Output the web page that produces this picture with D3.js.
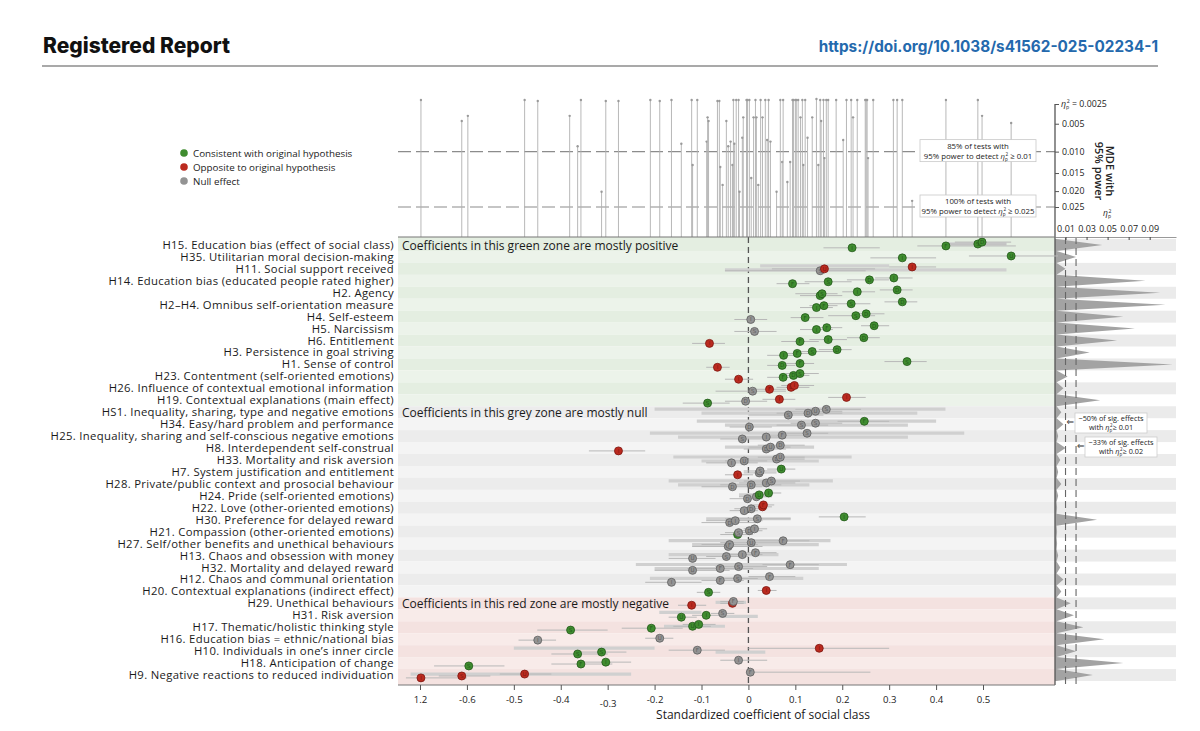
<!DOCTYPE html>
<html>
<head>
<meta charset="utf-8">
<script src="https://cdn.jsdelivr.net/npm/d3@7"></script>
<style>
body { margin: 0; background: #fff; font-family: "Open Sans", "Noto Sans", sans-serif; }
</style>
</head>
<body>
<svg id="chart" width="1200" height="731"></svg>
<script>
var hypotheses = [
  "H15. Education bias (effect of social class)",
  "H35. Utilitarian moral decision-making",
  "H11. Social support received",
  "H14. Education bias (educated people rated higher)",
  "H2. Agency",
  "H2\u2013H4. Omnibus self-orientation measure",
  "H4. Self-esteem",
  "H5. Narcissism",
  "H6. Entitlement ",
  "H3. Persistence in goal striving",
  "H1. Sense of control",
  "H23. Contentment (self-oriented emotions)",
  "H26. Influence of contextual emotional information",
  "H19. Contextual explanations (main effect)",
  "HS1. Inequality, sharing, type and negative emotions",
  "H34. Easy/hard problem and performance",
  "H25. Inequality, sharing and self-conscious negative emotions",
  "H8. Interdependent self-construal",
  "H33. Mortality and risk aversion",
  "H7. System justification and entitlement",
  "H28. Private/public context and prosocial behaviour",
  "H24. Pride (self-oriented emotions)",
  "H22. Love (other-oriented emotions)",
  "H30. Preference for delayed reward",
  "H21. Compassion (other-oriented emotions)",
  "H27. Self/other benefits and unethical behaviours",
  "H13. Chaos and obsession with money",
  "H32. Mortality and delayed reward",
  "H12. Chaos and communal orientation",
  "H20. Contextual explanations (indirect effect)",
  "H29. Unethical behaviours",
  "H31. Risk aversion",
  "H17. Thematic/holistic thinking style",
  "H16. Education bias = ethnic/national bias",
  "H10. Individuals in one\u2019s inner circle",
  "H18. Anticipation of change",
  "H9. Negative reactions to reduced individuation"
];

// zone name, first row, last row
var zones = [["green", 0, 13], ["grey", 14, 29], ["red", 30, 36]];
var zoneNotes = [
  "Coefficients in this green zone are mostly positive",
  "Coefficients in this grey zone are mostly null",
  "Coefficients in this red zone are mostly negative"
];

// row, estimate, CI low, CI high, status (c consistent, o opposite, n null), site letter
var estimates = [
  [0,0.221,0.16,0.28,"c","I"],[0,0.421,0.36,0.57,"c","F"],[0,0.489,0.42,0.55,"c","S"],[0,0.498,0.44,0.56,"c","D"],
  [1,0.328,0.26,0.40,"c","I"],[1,0.560,0.47,0.66,"c","U"],
  [2,0.153,-0.05,0.25,"n","S"],[2,0.162,0.05,0.27,"o","U"],[2,0.349,0.30,0.40,"o","I"],
  [3,0.094,0.06,0.13,"c","F"],[3,0.170,0.12,0.22,"c","S"],[3,0.258,0.21,0.30,"c","D"],[3,0.310,0.27,0.35,"c","I"],
  [4,0.153,0.11,0.20,"c","F"],[4,0.157,0.10,0.19,"c","S"],[4,0.232,0.20,0.27,"c","I"],[4,0.317,0.28,0.35,"c","D"],
  [5,0.145,0.11,0.18,"c","I"],[5,0.161,0.13,0.19,"c","F"],[5,0.219,0.17,0.26,"c","S"],[5,0.328,0.29,0.36,"c","D"],
  [6,0.005,-0.03,0.04,"n","I"],[6,0.121,0.09,0.16,"c","F"],[6,0.229,0.17,0.27,"c","S"],[6,0.251,0.22,0.29,"c","D"],
  [7,0.013,-0.03,0.06,"n","S"],[7,0.145,0.11,0.18,"c","I"],[7,0.167,0.14,0.20,"c","F"],[7,0.268,0.24,0.30,"c","D"],
  [8,-0.083,-0.12,-0.05,"o","I"],[8,0.110,0.07,0.15,"c","F"],[8,0.170,0.13,0.21,"c","I"],[8,0.246,0.21,0.28,"c","D"],
  [9,0.075,0.04,0.11,"c","I"],[9,0.104,0.07,0.14,"c","F"],[9,0.136,0.10,0.18,"c","S"],[9,0.189,0.15,0.22,"c","D"],
  [10,-0.066,-0.09,-0.04,"o","I"],[10,0.072,0.04,0.10,"c","D"],[10,0.110,0.08,0.14,"c","F"],[10,0.338,0.29,0.38,"c","S"],
  [11,-0.021,-0.05,0.01,"o","I"],[11,0.074,0.04,0.11,"c","F"],[11,0.096,0.07,0.13,"c","D"],[11,0.110,0.08,0.15,"c","S"],
  [12,0.009,-0.07,0.08,"n","S"],[12,0.045,0.01,0.08,"o","F"],[12,0.091,0.06,0.13,"o","D"],[12,0.098,0.07,0.14,"o","I"],
  [13,-0.087,-0.14,-0.04,"c","S"],[13,-0.006,-0.05,0.04,"n","D"],[13,0.066,0.03,0.10,"o","I"],[13,0.209,0.17,0.25,"o","I"],
  [14,0.085,0.00,0.16,"n","S"],[14,0.127,0.06,0.20,"n","D"],[14,0.143,0.08,0.20,"n","U"],[14,0.166,0.10,0.24,"n","S"],
  [15,0.002,-0.04,0.05,"n","D"],[15,0.113,0.06,0.17,"n","S"],[15,0.143,0.09,0.20,"n","S"],[15,0.247,0.19,0.30,"c","F"],
  [16,-0.013,-0.06,0.03,"n","S"],[16,0.038,-0.01,0.08,"n","I"],[16,0.072,0.03,0.12,"n","F"],[16,0.125,0.08,0.17,"n","S"],
  [17,-0.277,-0.34,-0.22,"o","I"],[17,0.038,-0.01,0.08,"n","D"],[17,0.047,0.00,0.09,"n","U"],[17,0.068,0.02,0.12,"n","D"],
  [18,-0.036,-0.09,0.02,"n","I"],[18,-0.009,-0.05,0.04,"n","U"],[18,0.060,0.00,0.12,"n","D"],[18,0.068,0.02,0.12,"n","U"],
  [19,-0.023,-0.05,0.01,"o","I"],[19,0.023,-0.01,0.06,"n","S"],[19,0.025,-0.01,0.06,"n","S"],[19,0.070,0.04,0.10,"c","U"],
  [20,-0.034,-0.10,0.03,"n","D"],[20,0.006,-0.06,0.07,"n","D"],[20,0.038,-0.02,0.10,"n","I"],[20,0.049,-0.01,0.11,"n","S"],
  [21,-0.002,-0.04,0.03,"n","D"],[21,0.017,-0.02,0.05,"n","S"],[21,0.023,0.00,0.05,"c","U"],[21,0.043,0.02,0.07,"c","I"],
  [22,-0.009,-0.04,0.02,"n","I"],[22,0.006,-0.03,0.04,"n","D"],[22,0.030,0.01,0.05,"o","F"],[22,0.032,0.01,0.055,"o","F"],
  [23,-0.040,-0.10,0.02,"n","D"],[23,-0.028,-0.09,0.03,"n","I"],[23,0.019,-0.05,0.09,"n","S"],[23,0.204,0.15,0.25,"c","I"],
  [24,-0.023,-0.06,0.01,"c","D"],[24,-0.021,-0.05,0.01,"n","S"],[24,0.002,-0.03,0.03,"n","D"],[24,0.013,-0.01,0.04,"n","I"],
  [25,-0.043,-0.12,0.03,"n","I"],[25,-0.040,-0.10,0.02,"n","F"],[25,0.006,-0.06,0.08,"n","U"],[25,0.074,0.00,0.13,"n","F"],
  [26,-0.119,-0.17,-0.07,"n","U"],[26,-0.047,-0.09,0.00,"n","S"],[26,-0.013,-0.05,0.03,"n","I"],[26,0.015,-0.02,0.06,"n","F"],
  [27,-0.119,-0.20,-0.04,"n","U"],[27,-0.060,-0.13,0.01,"n","F"],[27,-0.021,-0.07,0.04,"n","S"],[27,0.089,0.03,0.15,"n","F"],
  [28,-0.164,-0.22,-0.10,"n","I"],[28,-0.060,-0.10,-0.01,"n","F"],[28,-0.023,-0.06,0.02,"n","S"],[28,0.045,0.00,0.10,"n","F"],
  [29,-0.085,-0.11,-0.06,"c","S"],[29,0.038,0.02,0.06,"o","I"],
  [30,-0.121,-0.15,-0.09,"o","I"],[30,-0.034,-0.06,-0.01,"o","D"],[30,-0.032,-0.06,-0.01,"n","F"],
  [31,-0.143,-0.17,-0.11,"c","U"],[31,-0.090,-0.12,-0.06,"c","I"],[31,-0.055,-0.08,-0.03,"n","S"],
  [32,-0.379,-0.45,-0.30,"c","S"],[32,-0.207,-0.27,-0.14,"c","F"],[32,-0.119,-0.16,-0.08,"c","U"],[32,-0.106,-0.14,-0.07,"c","I"],
  [33,-0.449,-0.49,-0.41,"n","I"],[33,-0.189,-0.22,-0.16,"n","U"],
  [34,-0.364,-0.42,-0.30,"c","S"],[34,-0.313,-0.37,-0.26,"c","S"],[34,-0.109,-0.17,-0.05,"n","F"],[34,0.151,0.00,0.30,"o","I"],
  [35,-0.596,-0.67,-0.52,"c","S"],[35,-0.357,-0.42,-0.29,"c","F"],[35,-0.304,-0.36,-0.25,"c","I"],[35,-0.021,-0.06,0.04,"n","I"],
  [36,-0.698,-0.73,-0.60,"o","I"],[36,-0.611,-0.66,-0.55,"o","S"],[36,-0.477,-0.53,-0.42,"o","U"],[36,0.004,0.00,0.26,"n","F"]
];

// wide pooled intervals: row, low, high
var bands = [
  [0,0.42,0.55],
  [2,0.025,0.30],[2,-0.05,0.55],
  [14,-0.20,0.42],[14,-0.10,0.36],
  [15,-0.11,0.40],[15,-0.05,0.34],
  [16,-0.21,0.46],[16,-0.15,0.34],
  [17,-0.05,0.14],
  [18,-0.16,0.22],[18,-0.10,0.15],
  [20,-0.17,0.18],[20,-0.15,0.13],
  [21,-0.02,0.05],
  [23,-0.09,0.09],
  [25,-0.17,0.175],[25,-0.12,0.15],
  [26,-0.17,0.064],
  [27,-0.24,0.21],[27,-0.20,0.15],
  [28,-0.21,0.117],
  [30,-0.07,-0.005],
  [31,-0.19,-0.10],[31,-0.06,0.02],
  [32,-0.18,-0.05],
  [34,-0.50,-0.20],[34,-0.07,0.036],
  [36,-0.72,-0.25]
];

// top panel: coefficient, minimum detectable effect (eta_p^2) with 95% power
var stems = [
  [-0.698,0.0021],[-0.611,0.0046],[-0.598,0.0039],[-0.477,0.0021],[-0.449,0.0022],[-0.381,0.0039],
  [-0.364,0.0089],[-0.357,0.0021],[-0.313,0.0202],[-0.304,0.0022],[-0.277,0.0022],[-0.209,0.0021],
  [-0.189,0.0022],[-0.164,0.0021],[-0.143,0.0084],[-0.121,0.0021],[-0.119,0.0130],[-0.109,0.0021],
  [-0.089,0.0080],[-0.087,0.0041],[-0.085,0.0046],[-0.066,0.0022],[-0.062,0.0022],[-0.060,0.0135],
  [-0.055,0.0182],[-0.047,0.0046],[-0.043,0.0089],[-0.038,0.0080],[-0.034,0.0130],[-0.032,0.0021],
  [-0.030,0.0084],[-0.026,0.0021],[-0.021,0.0021],[-0.019,0.0202],[-0.013,0.0073],[-0.011,0.0041],
  [-0.004,0.0021],[-0.002,0.0021],[0.002,0.0021],[0.006,0.0163],[0.011,0.0041],[0.015,0.0021],
  [0.017,0.0041],[0.021,0.0182],[0.026,0.0021],[0.030,0.0041],[0.036,0.0021],[0.040,0.0077],
  [0.043,0.0021],[0.047,0.0080],[0.060,0.0202],[0.068,0.0021],[0.072,0.0123],[0.074,0.0021],
  [0.083,0.0174],[0.089,0.0123],[0.094,0.0021],[0.096,0.0021],[0.100,0.0021],[0.102,0.0021],
  [0.106,0.0021],[0.111,0.0041],[0.115,0.0021],[0.117,0.0130],[0.121,0.0021],[0.126,0.0073],
  [0.136,0.0041],[0.145,0.0020],[0.149,0.0130],[0.153,0.0021],[0.155,0.0046],[0.160,0.0021],
  [0.162,0.0114],[0.166,0.0021],[0.170,0.0021],[0.187,0.0021],[0.202,0.0077],[0.209,0.0021],
  [0.219,0.0021],[0.223,0.0041],[0.232,0.0021],[0.249,0.0021],[0.251,0.0021],[0.253,0.0021],
  [0.255,0.0114],[0.266,0.0021],[0.309,0.0021],[0.317,0.0021],[0.328,0.0021],[0.349,0.0230],
  [0.421,0.0021],[0.489,0.0021],[0.498,0.0039],[0.560,0.0049]
];

// right panel: peak eta_p^2 per hypothesis row
var densityPeak = [
  0.045,0.020,0.010,0.086,0.100,0.105,0.065,0.076,0.059,0.033,0.112,0.012,0.008,0.043,
  0.006,0.008,0.003,0.010,0.005,0.003,0.006,0.003,0.002,0.040,0.002,0.002,0.003,0.005,0.008,0.006,
  0.015,0.018,0.027,0.047,0.020,0.065,0.036
];

var xTicks = [-0.7,-0.6,-0.5,-0.4,-0.3,-0.2,-0.1,0,0.1,0.2,0.3,0.4,0.5];
var xTickLabels = ["1.2","-0.6","-0.5","-0.4","-0.3","-0.2","-0.1","0","0.1","0.2","0.3","0.4","0.5"];
var mdeTicks = [0.0025,0.005,0.01,0.015,0.02,0.025];
var mdeTickLabels = ["0.0025","0.005","0.010","0.015","0.020","0.025"];
var powerLines = [0.01, 0.025];
var powerNotes = [["85% of tests with","95% power to detect ","\u2265 0.01"],
                  ["100% of tests with","95% power to detect ","\u2265 0.025"]];
var densTicks = [0.01,0.03,0.05,0.07,0.09];
var sigLines = [0.01, 0.02];
var sigNotes = [["~50% of sig. effects","with ","\u2265 0.01"],["~33% of sig. effects","with ","\u2265 0.02"]];

var legendItems = [["c","Consistent with original hypothesis"],["o","Opposite to original hypothesis"],["n","Null effect"]];

var fillCol = {c: "#3f8c2f", o: "#bb2a1f", n: "#939393"};
var strokeCol = {c: "#23591a", o: "#7c1710", n: "#5e5e5e"};
var zoneCol = {green: ["#e4eee1", "#ecf3ea"], grey: ["#ececec", "#f4f4f4"], red: ["#f4e2e0", "#f8ebe9"]};

var svg = d3.select("#chart");
var plotL = 398, plotR = 1055, plotT = 237, plotB = 685;

var x = d3.scaleLinear().domain([-0.7, 0.5]).range([420, 983]);
var y = d3.scaleBand().domain(d3.range(hypotheses.length)).range([239, 681]);
var step = y.step();
var yc = function(i) { return y(i) + step / 2; };
var mde = d3.scaleSqrt().domain([0.0025, 0.025]).range([104, 207]);
var dx = d3.scaleLinear().domain([0, 0.115]).range([plotR, 1176]);

// η_p² helper
function eta(t, fs) {
  t.append("tspan").attr("font-style", "italic").text("\u03b7");
  t.append("tspan").attr("font-size", fs * 0.6).attr("dy", fs * 0.25).text("p");
  t.append("tspan").attr("font-size", fs * 0.6).attr("dy", -fs * 0.65).attr("dx", -fs * 0.3).text("2");
}

// header
svg.append("text").attr("x", 43).attr("y", 53).attr("font-size", 21).attr("font-weight", 800)
  .attr("font-family", "Inter, Lato, sans-serif").attr("fill", "#111").text("Registered Report");
svg.append("text").attr("x", 1158).attr("y", 52).attr("text-anchor", "end").attr("font-size", 15.3)
  .attr("font-weight", 700).attr("font-family", "Inter, Lato, sans-serif")
  .attr("fill", "#2469ad").text("https://doi.org/10.1038/s41562-025-02234-1");
svg.append("line").attr("x1", 42).attr("x2", 1158).attr("y1", 66).attr("y2", 66)
  .attr("stroke", "#555").attr("stroke-width", 1.2);

// legend
var leg = svg.append("g").selectAll("g").data(legendItems).enter().append("g")
  .attr("transform", function(d, i) { return "translate(184," + (153 + i * 14) + ")"; });
leg.append("circle").attr("r", 3.8).attr("fill", function(d) { return fillCol[d[0]]; });
leg.append("text").attr("x", 9).attr("y", 3.5).attr("font-size", 9.8).attr("fill", "#222")
  .text(function(d) { return d[1]; });

// zone stripes
var zoneOfRow = [];
zones.forEach(function(z) { for (var i = z[1]; i <= z[2]; i++) zoneOfRow[i] = z[0]; });
svg.append("g").selectAll("rect").data(d3.range(hypotheses.length)).enter().append("rect")
  .attr("x", plotL).attr("width", plotR - plotL)
  .attr("y", function(i) { return i === 0 ? plotT : y(i); })
  .attr("height", function(i) {
    var top = i === 0 ? plotT : y(i);
    var bot = i === hypotheses.length - 1 ? plotB : y(i) + step;
    return bot - top;
  })
  .attr("fill", function(i) { return zoneCol[zoneOfRow[i]][i % 2]; });

// density stripes
svg.append("g").selectAll("rect").data(d3.range(0, hypotheses.length, 2)).enter().append("rect")
  .attr("x", plotR).attr("width", dx(0.115) - plotR)
  .attr("y", function(i) { return y(i); }).attr("height", step)
  .attr("fill", "#ebebeb");

// density spikes
var densPts = [];
densityPeak.forEach(function(v, i) {
  densPts.push({y: y(i), v: 0.0015});
  densPts.push({y: yc(i), v: v});
  densPts.push({y: y(i) + step, v: 0.0015});
});
svg.append("path").datum(densPts)
  .attr("d", d3.area().y(function(d) { return d.y; }).x0(dx(0)).x1(function(d) { return dx(d.v); }))
  .attr("fill", "#a3a3a3");

svg.append("g").selectAll("line").data(sigLines).enter().append("line")
  .attr("x1", dx).attr("x2", dx).attr("y1", plotT).attr("y2", plotB)
  .attr("stroke", "#666").attr("stroke-width", 1.1).attr("stroke-dasharray", "7,4");

var dAxis = svg.append("g").attr("transform", "translate(0," + plotT + ")")
  .call(d3.axisTop(dx).tickValues(densTicks).tickSizeInner(-3).tickSizeOuter(0).tickPadding(5));
dAxis.select(".domain").attr("stroke", "#999");
dAxis.selectAll("text").attr("font-size", 9).attr("fill", "#222").attr("font-family", "Open Sans, sans-serif");
dAxis.selectAll(".tick line").attr("stroke", "#444");

// density annotations
sigNotes.forEach(function(n, k) {
  var bx = k === 0 ? 1075 : 1085, by = k === 0 ? 413 : 437;
  svg.append("rect").attr("x", bx).attr("y", by).attr("width", 72).attr("height", 20)
    .attr("fill", "#fff").attr("stroke", "#ccc").attr("stroke-width", 0.8);
  svg.append("text").attr("x", bx + 36).attr("y", by + 8).attr("text-anchor", "middle")
    .attr("font-size", 7.3).attr("fill", "#222").text(n[0]);
  var t = svg.append("text").attr("x", bx + 36).attr("y", by + 17).attr("text-anchor", "middle")
    .attr("font-size", 7.3).attr("fill", "#222");
  t.append("tspan").text(n[1]);
  eta(t, 7.3);
  t.append("tspan").attr("dy", 7.3 * 0.4).text(n[2]);
  svg.append("text").attr("x", dx(sigLines[k]) + 1).attr("y", by + 12).attr("font-size", 9)
    .attr("font-family", "DejaVu Sans").attr("fill", "#333").text("\u21d0");
});

// top panel: power reference lines
svg.append("g").selectAll("line").data(powerLines).enter().append("line")
  .attr("x1", plotL).attr("x2", plotR).attr("y1", mde).attr("y2", mde)
  .attr("stroke", "#8c8c8c").attr("stroke-width", 1.2).attr("stroke-dasharray", "13,5");

// stems
var st = svg.append("g").selectAll("g").data(stems).enter().append("g");
st.append("line").attr("x1", function(d) { return x(d[0]); }).attr("x2", function(d) { return x(d[0]); })
  .attr("y1", plotT).attr("y2", function(d) { return mde(d[1]); })
  .attr("stroke", "#b0b0b0").attr("stroke-width", 0.9);
st.append("circle").attr("cx", function(d) { return x(d[0]); }).attr("cy", function(d) { return mde(d[1]); })
  .attr("r", 1.2).attr("fill", "#9a9a9a");

powerNotes.forEach(function(n, k) {
  var cy = mde(powerLines[k]) - 1;
  svg.append("rect").attr("x", 920).attr("y", cy - 11).attr("width", 116).attr("height", 22)
    .attr("fill", "#fff").attr("stroke", "#c8c8c8").attr("stroke-width", 0.8);
  svg.append("text").attr("x", 978).attr("y", cy - 2).attr("text-anchor", "middle")
    .attr("font-size", 7.8).attr("fill", "#222").text(n[0]);
  var t = svg.append("text").attr("x", 978).attr("y", cy + 8).attr("text-anchor", "middle")
    .attr("font-size", 7.8).attr("fill", "#222");
  t.append("tspan").text(n[1]);
  eta(t, 7.8);
  t.append("tspan").attr("dy", 7.8 * 0.4).text(" " + n[2]);
});

// top panel right axis
svg.append("line").attr("x1", plotR).attr("x2", plotR).attr("y1", mde(0.0025)).attr("y2", plotB)
  .attr("stroke", "#555").attr("stroke-width", 1.3);
var mAxis = svg.append("g").attr("transform", "translate(" + plotR + ",0)")
  .call(d3.axisRight(mde).tickValues(mdeTicks).tickSize(4).tickPadding(3)
    .tickFormat(function(d, i) { return i === 0 ? "" : mdeTickLabels[i]; }));
mAxis.select(".domain").remove();
mAxis.selectAll(".tick line").attr("stroke", "#555");
mAxis.selectAll("text").attr("font-size", 8.8).attr("fill", "#222").attr("font-family", "Open Sans, sans-serif");
var first = svg.append("text").attr("x", plotR + 6).attr("y", mde(mdeTicks[0]) + 3).attr("font-size", 8.8).attr("fill", "#222");
eta(first, 8.8);
first.append("tspan").attr("dy", 8.8 * 0.4).text(" = " + mdeTickLabels[0]);

var mdeTitle = svg.append("text").attr("transform", "translate(1106,171) rotate(90)")
  .attr("text-anchor", "middle").attr("font-size", 11).attr("font-weight", 600).attr("fill", "#222");
mdeTitle.append("tspan").attr("x", 0).attr("y", 0).text("MDE with");
mdeTitle.append("tspan").attr("x", 0).attr("y", 11).text("95% power");
var etaLab = svg.append("text").attr("x", 1103).attr("y", 216).attr("font-size", 8.5).attr("fill", "#222");
eta(etaLab, 8.5);

// zero line
svg.append("line").attr("x1", x(0)).attr("x2", x(0)).attr("y1", plotT).attr("y2", plotB)
  .attr("stroke", "#555").attr("stroke-width", 1.3).attr("stroke-dasharray", "6,4");

// pooled bands
var bandsByRow = d3.group(bands, function(d) { return d[0]; });
bandsByRow.forEach(function(list, row) {
  list.forEach(function(b, j) {
    svg.append("line").attr("x1", x(b[1])).attr("x2", x(b[2]))
      .attr("y1", yc(row) + (j - (list.length - 1) / 2) * 4 - 1)
      .attr("y2", yc(row) + (j - (list.length - 1) / 2) * 4 - 1)
      .attr("stroke", "#d0d0d0").attr("stroke-width", 3.2);
  });
});

// zone notes
zones.forEach(function(z, k) {
  svg.append("text").attr("x", 402).attr("y", y(z[1]) + 10.5).attr("font-size", 12).attr("fill", "#1a1a1a")
    .text(zoneNotes[k]);
});

// estimates with staggered offsets inside each row
var pts = [];
d3.group(estimates, function(d) { return d[0]; }).forEach(function(list, row) {
  var s = list.slice().sort(function(a, b) { return a[1] - b[1]; });
  s.forEach(function(d, k) {
    pts.push({row: row, est: d[1], lo: d[2], hi: d[3], st: d[4], lt: d[5],
              cy: yc(row) + ((s.length - 1) / 2 - k) * 1.9});
  });
});
var ci = svg.append("g");
ci.selectAll("line").data(pts).enter().append("line")
  .attr("x1", function(d) { return x(d.lo); }).attr("x2", function(d) { return x(d.hi); })
  .attr("y1", function(d) { return d.cy; }).attr("y2", function(d) { return d.cy; })
  .attr("stroke", "#b8b8b8").attr("stroke-width", 1);
var dots = svg.append("g").selectAll("g").data(pts).enter().append("g")
  .attr("transform", function(d) { return "translate(" + x(d.est) + "," + d.cy + ")"; });
dots.append("circle").attr("r", 4)
  .attr("fill", function(d) { return fillCol[d.st]; })
  .attr("stroke", function(d) { return strokeCol[d.st]; }).attr("stroke-width", 0.8);
dots.append("text").attr("text-anchor", "middle").attr("y", 2).attr("font-size", 5.5)
  .attr("font-family", "DejaVu Sans").attr("fill", function(d) { return strokeCol[d.st]; })
  .text(function(d) { return d.lt; });

// frame lines
svg.append("line").attr("x1", plotL).attr("x2", plotR).attr("y1", plotT).attr("y2", plotT)
  .attr("stroke", "#777").attr("stroke-width", 1.2);
svg.append("line").attr("x1", plotL).attr("x2", plotR).attr("y1", plotB).attr("y2", plotB)
  .attr("stroke", "#777").attr("stroke-width", 1.2);

// hypothesis labels
svg.append("g").selectAll("text").data(hypotheses).enter().append("text")
  .attr("x", 394).attr("y", function(d, i) { return yc(i) + 4; })
  .attr("text-anchor", "end").attr("font-size", 11.3).attr("letter-spacing", 0.32).attr("fill", "#1a1a1a")
  .text(function(d) { return d; });

// x axis
var xAxis = svg.append("g").attr("transform", "translate(0," + plotB + ")")
  .call(d3.axisBottom(x).tickValues(xTicks).tickSize(5).tickPadding(6)
    .tickFormat(function(d, i) { return xTickLabels[i]; }));
xAxis.select(".domain").remove();
xAxis.selectAll(".tick line").attr("stroke", "#555");
xAxis.selectAll("text").attr("font-size", 9.6).attr("fill", "#222").attr("font-family", "Open Sans, sans-serif")
  .attr("dy", function(d) { return d === -0.3 ? "1.15em" : "0.71em"; });
svg.append("text").attr("x", 763).attr("y", 719).attr("text-anchor", "middle").attr("font-size", 12)
  .attr("fill", "#1a1a1a").text("Standardized coefficient of social class");
</script>
</body>
</html>
